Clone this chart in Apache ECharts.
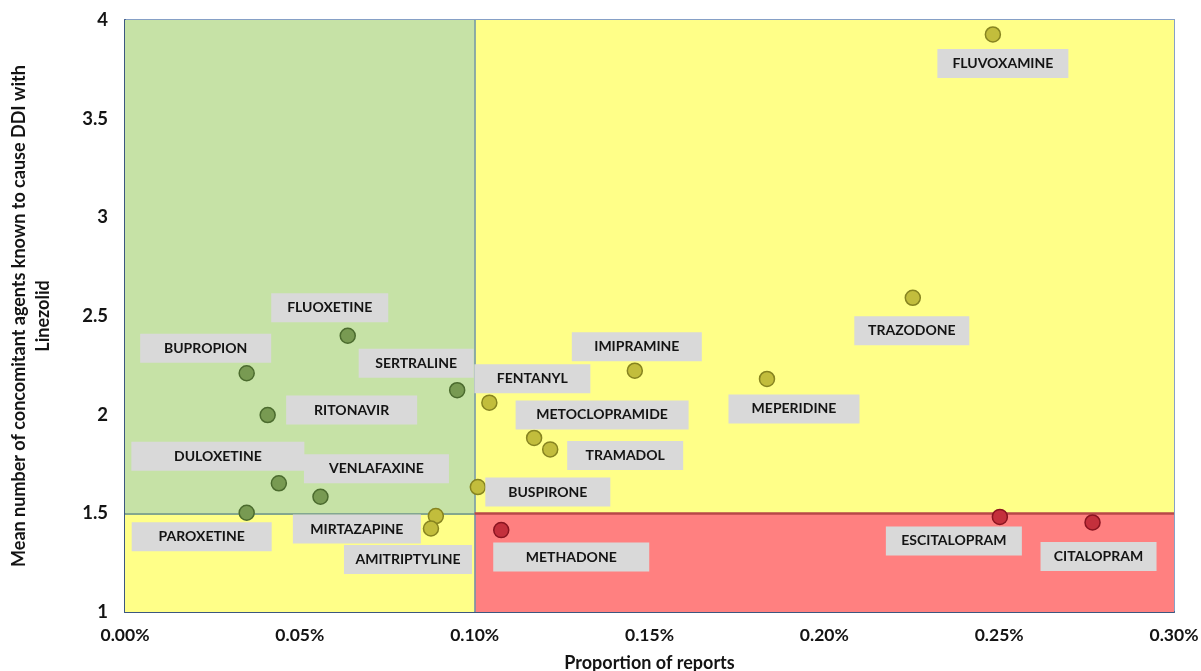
<!DOCTYPE html>
<html>
<head>
<meta charset="utf-8">
<script src="https://cdn.jsdelivr.net/npm/echarts@6/dist/echarts.min.js"></script>
<style>html,body{margin:0;padding:0;background:#fff}#c{width:1201px;height:671px}</style>
</head>
<body>
<div id="c"></div>
<script>
// ---- data ----
const drugNames = ['FLUVOXAMINE','TRAZODONE','MEPERIDINE','IMIPRAMINE','FENTANYL','METOCLOPRAMIDE','TRAMADOL','BUSPIRONE','METHADONE','ESCITALOPRAM','CITALOPRAM','SERTRALINE','FLUOXETINE','BUPROPION','RITONAVIR','DULOXETINE','VENLAFAXINE','PAROXETINE','MIRTAZAPINE','AMITRIPTYLINE'];
const proportionOfReports = [0.002482,0.002253,0.001836,0.001458,0.001042,0.001170,0.001216,0.001009,0.001076,0.002502,0.002767,0.000950,0.000637,0.000348,0.000408,0.000440,0.000559,0.000348,0.000889,0.000875];
const meanConcomitant = [3.927,2.592,2.181,2.223,2.061,1.882,1.824,1.633,1.415,1.482,1.454,2.124,2.400,2.210,1.998,1.652,1.584,1.503,1.486,1.423];
const proportionThreshold = 0.001;
const meanThreshold = 1.5;
const xTicks = [0,0.0005,0.001,0.0015,0.002,0.0025,0.003];
const yTicks = [1,1.5,2,2.5,3,3.5,4];

// ---- label layout (offset from point centre, box width) ----
const labelLayout = {
  FLUVOXAMINE:[10,29,131], TRAZODONE:[-1,33,115], MEPERIDINE:[27,30,131], IMIPRAMINE:[2,-24,130],
  FENTANYL:[43,-24,116], METOCLOPRAMIDE:[68,-23,173], TRAMADOL:[75,6,116], BUSPIRONE:[70,5,125],
  METHADONE:[70,27,156], ESCITALOPRAM:[-46,24,136], CITALOPRAM:[6,34,116], SERTRALINE:[-41,-27,115],
  FLUOXETINE:[-18,-28,117], BUPROPION:[-41,-25,131], RITONAVIR:[84,-5,131], DULOXETINE:[-61,-27,173],
  VENLAFAXINE:[56,-28,145], PAROXETINE:[-45,24,140], MIRTAZAPINE:[-79,13,128], AMITRIPTYLINE:[-23,31,128]
};

const FONT = 'Lato, "Open Sans", sans-serif';
const TEXT = '#141414';

function groupOf(x, y) {
  if (x < proportionThreshold && y >= meanThreshold) return 'green';
  if (x >= proportionThreshold && y < meanThreshold) return 'red';
  return 'yellow';
}
const pointStyles = {
  green: {color:'#789a52', borderColor:'#4b6b2e'},
  yellow:{color:'#c2bd3c', borderColor:'#878420'},
  red:   {color:'#c4303c', borderColor:'#8a1420'}
};
const groups = {green:[], yellow:[], red:[]};
drugNames.forEach((n, i) => {
  const x = proportionOfReports[i], y = meanConcomitant[i];
  const L = labelLayout[n];
  groups[groupOf(x,y)].push({
    name:n, value:[x,y],
    label:{offset:[L[0],L[1]], width:L[2]}
  });
});

const xMin = xTicks[0], xMax = xTicks[xTicks.length-1];
const yMin = yTicks[0], yMax = yTicks[yTicks.length-1];

function scatterSeries(key) {
  return {
    type:'scatter', name:key, data:groups[key], symbolSize:15, z:5,
    itemStyle:{color:pointStyles[key].color, borderColor:pointStyles[key].borderColor, borderWidth:1.5, opacity:1},
    label:{show:true, position:'inside', formatter:'{b}', height:29, lineHeight:29, opacity:1,
      align:'center', verticalAlign:'middle', backgroundColor:'#d9d9d9',
      color:TEXT, fontFamily:FONT, fontWeight:'bold', fontSize:14},
    emphasis:{disabled:true}
  };
}

const option = {
  animation:false,
  grid:{left:125, right:27, top:20, bottom:59, outerBoundsMode:'none', containLabel:false,
    show:true, borderColor:'#86a0c6', borderWidth:2, backgroundColor:'transparent'},
  xAxis:{type:'value', min:xMin, max:xMax, interval:0.0005,
    name:'Proportion of reports', nameLocation:'middle', nameGap:42,
    nameTextStyle:{fontFamily:FONT, fontWeight:'bold', fontSize:18, color:TEXT},
    axisLine:{show:true, onZero:false, lineStyle:{color:'#3b5780', width:2}},
    axisTick:{show:false}, splitLine:{show:false},
    axisLabel:{margin:14, fontFamily:FONT, fontWeight:'bold', fontSize:17.5, color:TEXT,
      formatter:v => (v*100).toFixed(2)+'%'}
  },
  yAxis:{type:'value', min:yMin, max:yMax, interval:0.5,
    name:'Mean number of concomitant agents known to cause DDI with\nLinezolid', nameLocation:'middle', nameGap:70,
    nameTextStyle:{fontFamily:FONT, fontWeight:'bold', fontSize:18, color:TEXT, lineHeight:24, align:'center'},
    axisLine:{show:true, onZero:false, lineStyle:{color:'#3b5780', width:2}},
    axisTick:{show:false}, splitLine:{show:false},
    axisLabel:{margin:17, fontFamily:FONT, fontWeight:'bold', fontSize:18.5, color:TEXT,
      formatter:v => String(v)}
  },
  series:[
    {type:'scatter', data:[], silent:true, z:1,
      markArea:{silent:true, label:{show:false}, data:[
        [{coord:[xMin,meanThreshold], itemStyle:{color:'#c6e2a6'}},{coord:[proportionThreshold,yMax]}],
        [{coord:[proportionThreshold,meanThreshold], itemStyle:{color:'#ffff88'}},{coord:[xMax,yMax]}],
        [{coord:[xMin,yMin], itemStyle:{color:'#ffff88'}},{coord:[proportionThreshold,meanThreshold]}],
        [{coord:[proportionThreshold,yMin], itemStyle:{color:'#ff8080'}},{coord:[xMax,meanThreshold]}]
      ]},
      markLine:{silent:true, symbol:'none', label:{show:false}, data:[
        [{coord:[proportionThreshold,yMin], lineStyle:{color:'#6c93a6', width:1.5, type:'solid'}},{coord:[proportionThreshold,yMax]}],
        [{coord:[xMin,meanThreshold], lineStyle:{color:'#5b8a8c', width:1.5, type:'solid'}},{coord:[proportionThreshold,meanThreshold]}],
        [{coord:[proportionThreshold,meanThreshold], lineStyle:{color:'#b84848', width:2.5, type:'solid'}},{coord:[xMax,meanThreshold]}]
      ]}
    },
    scatterSeries('green'), scatterSeries('yellow'), scatterSeries('red')
  ]
};
const chart = echarts.init(document.getElementById('c'));
chart.setOption(option);
</script>
</body>
</html>
